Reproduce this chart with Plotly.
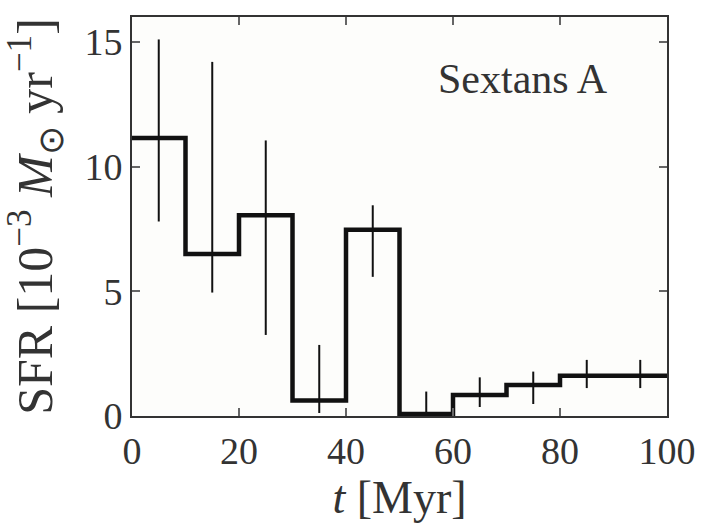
import plotly.graph_objects as go

# Data
bin_edges = [0, 10, 20, 30, 40, 50, 60, 70, 80, 90, 100]
bin_centers = [5, 15, 25, 35, 45, 55, 65, 75, 85, 95]
sfr = [11.15, 6.5, 8.05, 0.62, 7.47, 0.08, 0.84, 1.24, 1.61, 1.61]
err_hi = [15.1, 14.2, 11.05, 2.85, 8.45, 0.98, 1.55, 1.78, 2.25, 2.25]
err_lo = [7.8, 4.95, 3.25, 0.12, 5.58, 0.0, 0.36, 0.48, 1.12, 1.12]

x_ticks = [0, 20, 40, 60, 80, 100]
y_ticks = [0, 5, 10, 15]

step_x = bin_edges
step_y = sfr + [sfr[-1]]

up = [h - v for h, v in zip(err_hi, sfr)]
down = [v - l for v, l in zip(sfr, err_lo)]

FONT = "Liberation Serif"

fig = go.Figure()
fig.add_trace(go.Scatter(
    x=bin_centers, y=sfr, mode="markers",
    marker=dict(size=1, color="rgba(0,0,0,0)"),
    error_y=dict(type="data", symmetric=False, array=up, arrayminus=down,
                 width=0, thickness=2, color="#111"),
    showlegend=False, hoverinfo="skip",
))
fig.add_trace(go.Scatter(
    x=step_x, y=step_y, mode="lines", line_shape="hv",
    line=dict(color="#111", width=4.5), showlegend=False,
))

fig.add_annotation(x=73, y=13.5, text="Sextans A", showarrow=False,
                   font=dict(family=FONT, size=42, color="#333"))

axis_common = dict(
    showgrid=False, zeroline=False, showline=True, linecolor="#333", linewidth=2,
    mirror="allticks", ticks="inside", ticklen=8, tickwidth=1.5, tickcolor="#666",
    tickfont=dict(family=FONT, size=38, color="#333"),
)

fig.update_layout(
    width=708, height=525,
    margin=dict(l=132, r=41, t=17, b=109),
    paper_bgcolor="white", plot_bgcolor="#fdfdfb",
    xaxis=dict(range=[0, 100], tickvals=x_ticks, ticktext=[str(v) for v in x_ticks],
               title=dict(text="<i>t</i> [Myr]", font=dict(family=FONT, size=46, color="#333"), standoff=6),
               **axis_common),
    yaxis=dict(range=[0, 16], tickvals=y_ticks, ticktext=[str(v) for v in y_ticks],
               title=dict(text="SFR [10<sup>−3</sup> <i>M</i><sub>⊙</sub> yr<sup>−1</sup>]",
                          font=dict(family=FONT, size=50, color="#333"), standoff=20),
               **axis_common),
)

fig.write_html("out.html")
